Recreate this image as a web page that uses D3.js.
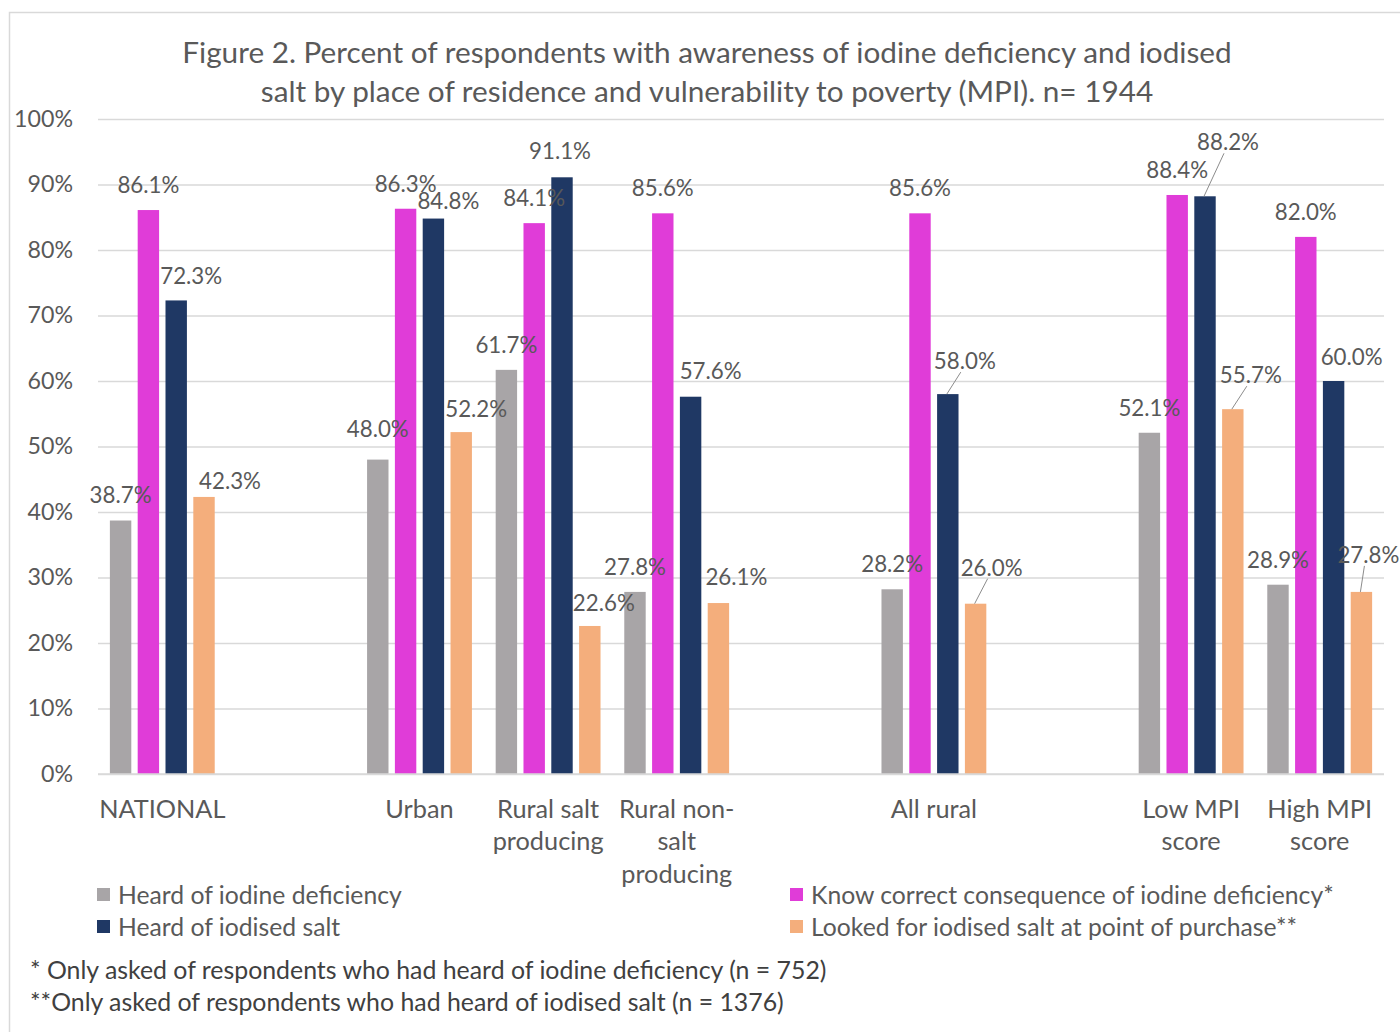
<!DOCTYPE html>
<html><head><meta charset="utf-8">
<script src="https://cdn.jsdelivr.net/npm/d3@7"></script>
<style>body{margin:0;background:#fff;} svg{display:block;}</style>
</head><body>
<svg id="chart" width="1400" height="1032"></svg>
<script>
// ---------------- DATA ----------------
const titleLines = [
  "Figure 2. Percent of respondents with awareness of iodine deficiency and iodised",
  "salt by place of residence and vulnerability to poverty (MPI). n= 1944"
];
// empty strings are the blank spacer categories of the original chart
const categories = ["NATIONAL", "", "Urban", "Rural salt\nproducing", "Rural non-\nsalt\nproducing", "", "All rural", "", "Low MPI\nscore", "High MPI\nscore"];
const seriesNames = [
  "Heard of iodine deficiency",
  "Know correct consequence of iodine deficiency*",
  "Heard of iodised salt",
  "Looked for iodised salt at point of purchase**"
];
const heardIodineDeficiency = [38.7, null, 48.0, 61.7, 27.8, null, 28.2, null, 52.1, 28.9];
const knowConsequence      = [86.1, null, 86.3, 84.1, 85.6, null, 85.6, null, 88.4, 82.0];
const heardIodisedSalt     = [72.3, null, 84.8, 91.1, 57.6, null, 58.0, null, 88.2, 60.0];
const lookedForIodisedSalt = [42.3, null, 52.2, 22.6, 26.1, null, 26.0, null, 55.7, 27.8];
const yTicks = [0, 10, 20, 30, 40, 50, 60, 70, 80, 90, 100];
const footnotes = [
  "* Only asked of respondents who had heard of iodine deficiency (n = 752)",
  "**Only asked of respondents who had heard of iodised salt (n = 1376)"
];

// ---------------- STYLE / LAYOUT ----------------
const seriesValues = [heardIodineDeficiency, knowConsequence, heardIodisedSalt, lookedForIodisedSalt];
const colors = ["#A8A5A7", "#E03CD8", "#1F3864", "#F4AE7C"];
const FONT = "Lato, 'Open Sans', sans-serif";
const textGrey = "#595959";
const plot = {left: 98, right: 1384, top: 119, bottom: 774};

// manual data-label nudges (dx, dy from bar top) as in the original, keyed "series-category"
const labelNudge = {
  "0-2": [0, -30],
  "2-0": [15, -24], "2-2": [15, -17], "2-3": [-2, -26], "2-4": [20, -26], "2-6": [17, -33], "2-8": [23, -54], "2-9": [18, -24],
  "3-0": [26, -16], "3-2": [15, -23], "3-3": [14, -23], "3-4": [18, -26], "3-6": [16, -36], "3-8": [18, -34], "3-9": [7, -37]
};
const leaderLines = new Set(["2-6", "3-6", "2-8", "3-8", "3-9"]);

const svg = d3.select("#chart");

function fitSize(text, target, base = 20) {
  const t = svg.append("text").attr("font-family", FONT).attr("font-size", base).text(text);
  const w = t.node().getComputedTextLength();
  t.remove();
  return base * target / w;
}

// outer frame
svg.append("rect").attr("x", 9.5).attr("y", 12.5).attr("width", 1400).attr("height", 1030)
  .attr("fill", "#fff").attr("stroke", "#d9d9d9").attr("stroke-width", 1.5);

// scales
const x0 = d3.scaleBand().domain(d3.range(categories.length)).range([plot.left, plot.right]).padding(0);
const groupW = x0.bandwidth() * 0.865;
const x1 = d3.scaleBand().domain(d3.range(seriesNames.length)).range([0, groupW]).paddingInner(0.23).paddingOuter(0.115);
const y = d3.scaleLinear().domain([0, 100]).range([plot.bottom, plot.top]);

// title
const titleSize = fitSize(titleLines[0], 1050, 26);
svg.append("g").selectAll("text").data(titleLines).join("text")
  .attr("x", 707).attr("y", (d, i) => 53 + i * 39).attr("dy", "0.35em")
  .attr("text-anchor", "middle").attr("font-family", FONT).attr("font-size", titleSize)
  .attr("fill", textGrey).text(d => d);

// y axis + gridlines
const tickSize = fitSize("100%", 59, 20);
const yAxis = svg.append("g").attr("transform", `translate(${plot.left},0)`)
  .call(d3.axisLeft(y).tickValues(yTicks).tickFormat(d => d + "%").tickSize(-(plot.right - plot.left)).tickPadding(25));
yAxis.select(".domain").remove();
yAxis.selectAll(".tick line").attr("stroke", "#d9d9d9").attr("stroke-width", 1.5);
yAxis.selectAll(".tick text").attr("font-family", FONT).attr("font-size", tickSize).attr("fill", textGrey);

// bars
const barData = [];
seriesValues.forEach((vals, s) => vals.forEach((v, c) => { if (v != null) barData.push({s, c, v}); }));
const bx = d => x0(d.c) + (x0.bandwidth() - groupW) / 2 + x1(d.s);
svg.append("g").selectAll("rect").data(barData).join("rect")
  .attr("x", bx).attr("width", x1.bandwidth())
  .attr("y", d => y(d.v)).attr("height", d => y(0) - y(d.v))
  .attr("fill", d => colors[d.s]);

// baseline
svg.append("line").attr("x1", plot.left).attr("x2", plot.right).attr("y1", y(0)).attr("y2", y(0))
  .attr("stroke", "#d9d9d9").attr("stroke-width", 1.5);

// data labels
const labSize = fitSize("86.1%", 62, 20);
const labPos = d => {
  const n = labelNudge[d.s + "-" + d.c] || [0, -25];
  return [bx(d) + x1.bandwidth() / 2 + n[0], y(d.v) + n[1]];
};
svg.append("g").selectAll("line").data(barData.filter(d => leaderLines.has(d.s + "-" + d.c))).join("line")
  .attr("x1", d => bx(d) + x1.bandwidth() / 2 - 1).attr("y1", d => y(d.v))
  .attr("x2", d => labPos(d)[0] - 4).attr("y2", d => labPos(d)[1] + 11)
  .attr("stroke", "#8c8c8c").attr("stroke-width", 1);
svg.append("g").selectAll("text").data(barData).join("text")
  .attr("x", d => labPos(d)[0]).attr("y", d => labPos(d)[1]).attr("dy", "0.35em")
  .attr("text-anchor", "middle").attr("font-family", FONT).attr("font-size", labSize)
  .attr("fill", textGrey).text(d => d.v.toFixed(1) + "%");

// category labels
const catSize = fitSize("producing", 111, 20);
const catG = svg.append("g").attr("transform", `translate(0,${plot.bottom})`)
  .call(d3.axisBottom(x0).tickSize(0).tickFormat(""));
catG.select(".domain").remove();
catG.selectAll(".tick").each(function(c) {
  const lines = categories[c] ? categories[c].split("\n") : [];
  d3.select(this).select("text").remove();
  d3.select(this).selectAll("text.cat").data(lines).join("text").attr("class", "cat")
    .attr("x", 0).attr("y", (d, i) => 35 + i * 32.5).attr("dy", "0.35em")
    .attr("text-anchor", "middle").attr("font-family", FONT).attr("font-size", catSize)
    .attr("fill", textGrey).text(d => d);
});

// legend
const legSize = fitSize(seriesNames[1], 523, 20);
const legendPos = [[97, 895], [790, 895], [97, 927], [790, 927]];
const leg = svg.append("g").selectAll("g").data(seriesNames).join("g")
  .attr("transform", (d, i) => `translate(${legendPos[i][0]},${legendPos[i][1]})`);
leg.append("rect").attr("x", 0).attr("y", -7).attr("width", 13).attr("height", 13).attr("fill", (d, i) => colors[i]);
leg.append("text").attr("x", 21).attr("y", 0).attr("dy", "0.35em").attr("font-family", FONT)
  .attr("font-size", legSize).attr("fill", textGrey).text(d => d);

// footnotes
const fnSize = fitSize(footnotes[0], 797, 20);
svg.append("g").selectAll("text").data(footnotes).join("text")
  .attr("x", 30).attr("y", (d, i) => 970 + i * 32).attr("dy", "0.35em")
  .attr("font-family", FONT).attr("font-size", fnSize).attr("fill", "#404040").text(d => d);
</script>
</body></html>
